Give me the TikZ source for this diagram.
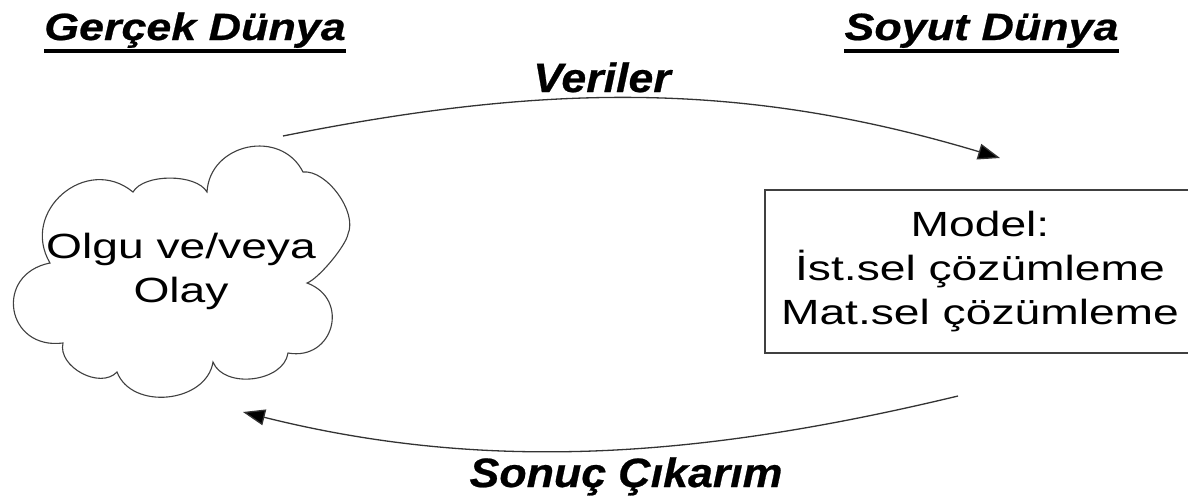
\documentclass[tikz,border=0pt]{standalone}
\usepackage{fontspec}
\setmainfont{Liberation Sans}
\newfontfamily\regfont[FakeStretch=1.32]{Liberation Sans}
\newfontfamily\titlefont[FakeStretch=1.18,FakeBold=0.6]{Liberation Sans}
\newfontfamily\labelfont[FakeStretch=1.09,FakeBold=0.6]{Liberation Sans}
\usetikzlibrary{arrows.meta,calc}
\begin{document}
\begin{tikzpicture}[x=1pt,y=-1pt,
  title/.style={inner sep=0pt,anchor=base,font=\titlefont\bfseries\itshape\fontsize{38}{46}\selectfont},
  arclabel/.style={inner sep=0pt,anchor=base,font=\labelfont\bfseries\itshape\fontsize{41}{48}\selectfont},
  bodytext/.style={font=\regfont\fontsize{35}{44}\selectfont,align=center},
  conn/.style={draw=black!80,line width=1.3pt,-{Triangle[length=22pt,width=16pt,fill=black]}},
  cloudline/.style={draw=black!75,line width=1.1pt,fill=white},
  lobe/.style args={#1/#2}{to path={.. controls ($(\tikztostart)!#2!#1:(\tikztotarget)$) and ($(\tikztotarget)!#2!-#1:(\tikztostart)$) .. (\tikztotarget)}}
]
\useasboundingbox[fill=white] (0,0) rectangle (1188,498);

% cloud
\draw[cloudline] (133,192)
  to[lobe=60/0.29] (207,192)
  to[lobe=75/0.50] (303,172)
  to[lobe=60/0.31] (348,234)
  to[lobe=30/0.19] (307,283)
  to[lobe=85/0.64] (288,353)
  to[lobe=75/0.39] (213,362)
  to[lobe=75/0.43] (117,372)
  to[lobe=75/0.40] (63,343)
  to[lobe=88/0.71] (50,263)
  to[lobe=80/0.55] (133,192) -- cycle;
\node[bodytext,anchor=base] (olgu) at (181,302) {Olgu ve/veya\\Olay};

% model box
\node[bodytext,draw=black!75,line width=1.5pt,minimum width=430pt,minimum height=163pt,inner sep=0pt] (model) at (980,271.5) {Model:\\İst.sel çözümleme\\Mat.sel çözümleme};

% titles
\node[title] (g) at (195,40) {Gerçek Dünya};
\node[title] (s) at (981.5,40) {Soyut Dünya};
\draw[line width=3.2pt] ([yshift=-11pt]g.base west) -- ([yshift=-11pt]g.base east);
\draw[line width=3.2pt] ([yshift=-11pt]s.base west) -- ([yshift=-11pt]s.base east);

% arc labels
\node[arclabel] (v) at (602,92) {Veriler};
\node[arclabel] (sc) at (626,487) {Sonuç Çıkarım};

% connectors
\coordinate (vs) at (283,136);
\coordinate (ve) at (1000,158);
\draw[conn] (vs) .. controls (543,84) and (740,80) .. (ve);
\coordinate (ss) at (958,396);
\coordinate (se) at (243,412);
\draw[conn] (ss) .. controls (708,456) and (493,474.5) .. (se);
\end{tikzpicture}
\end{document}
